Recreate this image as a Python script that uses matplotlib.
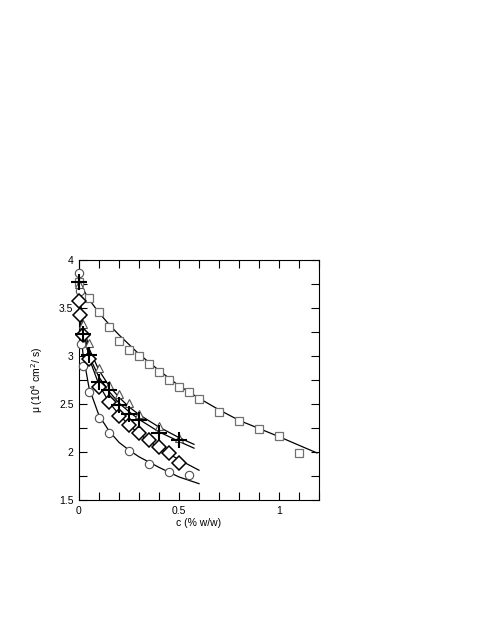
import numpy as np
import matplotlib
matplotlib.use("Agg")
import matplotlib.pyplot as plt
from matplotlib.ticker import MultipleLocator

plt.rcParams['font.family'] = ['Liberation Sans', 'DejaVu Sans']

sq_c = [0, 0.05, 0.1, 0.15, 0.2, 0.25, 0.3, 0.35, 0.4, 0.45, 0.5, 0.55, 0.6, 0.7, 0.8, 0.9, 1.0, 1.1]
sq_mu = [3.77, 3.60, 3.455, 3.30, 3.16, 3.06, 3.0, 2.92, 2.83, 2.75, 2.68, 2.62, 2.555, 2.42, 2.32, 2.24, 2.17, 1.99]

tri_c = [0, 0.01, 0.02, 0.05, 0.1, 0.15, 0.2, 0.25, 0.3, 0.4, 0.5]
tri_mu = [3.75, 3.45, 3.33, 3.14, 2.88, 2.70, 2.60, 2.51, 2.40, 2.27, 2.15]

plus_c = [0, 0.02, 0.05, 0.1, 0.15, 0.2, 0.25, 0.3, 0.4, 0.5]
plus_mu = [3.77, 3.23, 3.01, 2.73, 2.65, 2.49, 2.40, 2.33, 2.20, 2.12]

dia_c = [0.002, 0.005, 0.02, 0.05, 0.1, 0.15, 0.2, 0.25, 0.3, 0.35, 0.4, 0.45, 0.5]
dia_mu = [3.57, 3.43, 3.22, 2.97, 2.68, 2.52, 2.38, 2.28, 2.20, 2.12, 2.055, 1.99, 1.89]

circ_c = [0, 0.005, 0.01, 0.02, 0.05, 0.1, 0.15, 0.25, 0.35, 0.45, 0.55]
circ_mu = [3.86, 3.68, 3.13, 2.90, 2.62, 2.35, 2.20, 2.01, 1.875, 1.795, 1.76]

# fitted curves, also
fit_sq_c = [0, 0.01, 0.025, 0.05, 0.1, 0.15, 0.2, 0.25, 0.3, 0.4, 0.5, 0.6, 0.7, 0.8, 0.9, 1.0, 1.1, 1.19]
fit_sq_mu = [3.79, 3.74, 3.68, 3.59, 3.45, 3.33, 3.22, 3.12, 3.02, 2.85, 2.69, 2.56, 2.44, 2.33, 2.245, 2.16, 2.07, 1.99]

fit_c = [0, 0.005, 0.01, 0.02, 0.05, 0.1, 0.15, 0.2, 0.25, 0.3, 0.4, 0.5, 0.575]
fit_tri_mu = [3.78, 3.62, 3.50, 3.35, 3.08, 2.85, 2.69, 2.57, 2.47, 2.39, 2.26, 2.15, 2.08]
fit_plus_mu = [3.78, 3.58, 3.45, 3.28, 3.00, 2.78, 2.63, 2.51, 2.42, 2.34, 2.21, 2.11, 2.04]

fit_c2 = [0, 0.005, 0.01, 0.02, 0.05, 0.1, 0.15, 0.2, 0.25, 0.3, 0.4, 0.5, 0.6]
fit_dia_mu = [3.78, 3.58, 3.45, 3.30, 2.98, 2.70, 2.52, 2.39, 2.28, 2.19, 2.04, 1.92, 1.81]
fit_circ_mu = [3.78, 3.45, 3.25, 3.02, 2.67, 2.38, 2.22, 2.10, 2.02, 1.95, 1.84, 1.74, 1.67]

fig = plt.figure(figsize=(4.89, 6.39), dpi=100)
ax = fig.add_axes([79 / 489, 139 / 639, 240 / 489, 240 / 639])

lw = 0.9
ax.plot(fit_sq_c, fit_sq_mu, color="black", lw=lw)
ax.plot(fit_c, fit_tri_mu, color="black", lw=lw)
ax.plot(fit_c, fit_plus_mu, color="black", lw=lw)
ax.plot(fit_c2, fit_dia_mu, color="black", lw=lw)
ax.plot(fit_c2, fit_circ_mu, color="black", lw=lw)

mk = dict(ls="none", clip_on=False, zorder=3)
ax.plot(sq_c, sq_mu, marker="s", ms=6, mfc="white", mec="#707070", mew=0.9, **mk)
ax.plot(circ_c, circ_mu, marker="o", ms=6, mfc="white", mec="#505050", mew=0.8, **mk)
ax.plot(tri_c, tri_mu, marker="^", ms=6, mfc="white", mec="#505050", mew=0.8, **mk)
ax.plot(dia_c, dia_mu, marker="D", ms=7.5, mfc="white", mec="black", mew=1.1, **mk)
ax.plot(plus_c, plus_mu, marker="+", ms=11, mec="black", mew=1.5, **mk)

ax.set_xlim(0, 1.2)
ax.set_ylim(1.5, 4)
ax.xaxis.set_major_locator(MultipleLocator(0.5))
ax.xaxis.set_minor_locator(MultipleLocator(0.1))
ax.yaxis.set_major_locator(MultipleLocator(0.5))
ax.yaxis.set_minor_locator(MultipleLocator(0.25))
ax.xaxis.set_major_formatter(plt.FuncFormatter(lambda v, p: f"{v:g}"))
ax.yaxis.set_major_formatter(plt.FuncFormatter(lambda v, p: f"{v:g}"))
ax.tick_params(which="both", direction="in", top=True, right=True, length=6,
               width=0.8, labelsize=7.5, pad=4)
for s in ax.spines.values():
    s.set_linewidth(0.8)

ax.set_xlabel("c (% w/w)", fontsize=7.5, labelpad=2)
ax.set_ylabel("μ (10$^4$ cm$^2$/ s)", fontsize=7.5, labelpad=10)

fig.savefig("out.png", dpi=100)
